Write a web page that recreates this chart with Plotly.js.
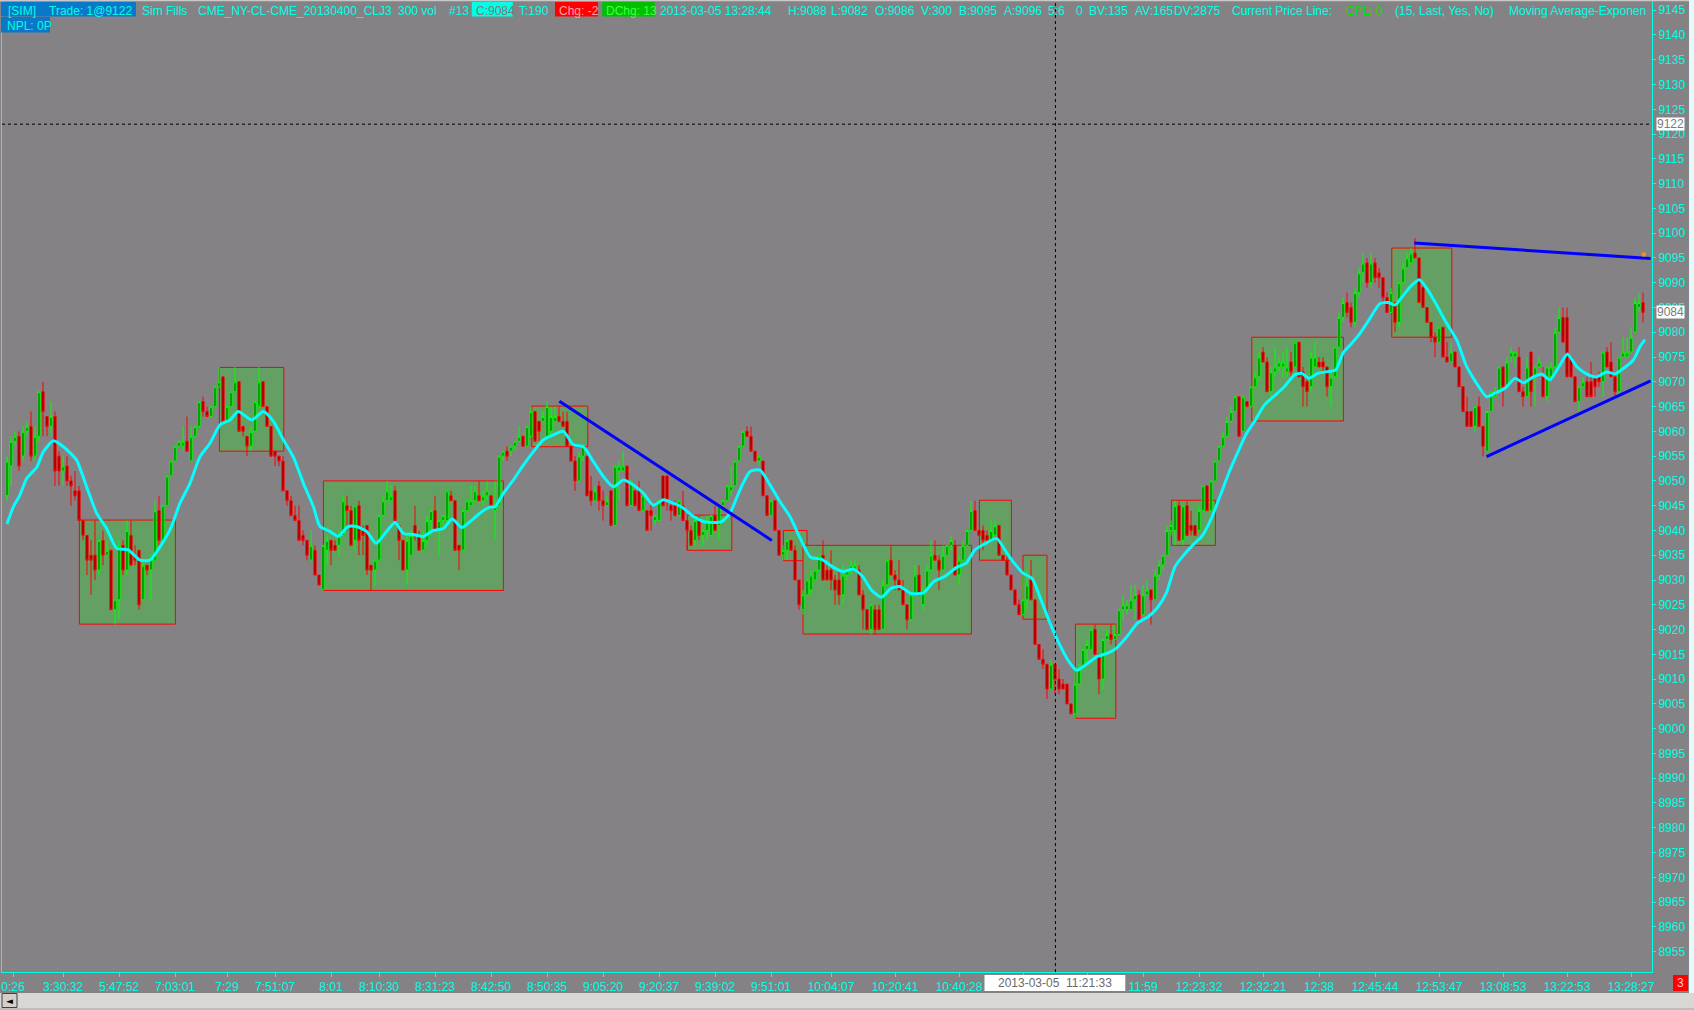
<!DOCTYPE html>
<html><head><meta charset="utf-8">
<script src="https://cdn.plot.ly/plotly-3.0.1.min.js"></script>
<style>html,body{margin:0;padding:0;background:#848284;overflow:hidden}#chart{width:1694px;height:1010px}</style>
</head><body><div id="chart"></div>
<script>
// ---------- DATA ----------
const open = [
9047,9053,9058,9059,9055,9060,9061,9055,9059,9068, 9063,9061,9063,9055,9052,9053,9050,9048,9048,9042,
9039,9035,9035,9032,9038,9035,9036,9024,9026,9037, 9032,9039,9035,9036,9026,9033,9032,9034,9044,9038,
9045,9051,9054,9057,9057,9058,9054,9059,9061,9066, 9064,9063,9065,9069,9071,9062,9065,9068,9070,9061,
9059,9057,9060,9065,9070,9065,9061,9056,9055,9054, 9048,9046,9043,9042,9039,9038,9034,9036,9031,9028,
9036,9038,9037,9037,9039,9045,9044,9038,9045,9040, 9041,9033,9032,9034,9043,9046,9046,9048,9041,9038,
9032,9035,9041,9039,9036,9038,9042,9044,9040,9042, 9042,9047,9046,9037,9036,9044,9045,9046,9047,9046,
9047,9047,9044,9045,9055,9056,9056,9057,9058,9059, 9057,9059,9064,9062,9062,9059,9060,9062,9063,9062,
9062,9057,9054,9050,9055,9055,9048,9046,9049,9046, 9045,9048,9041,9052,9052,9053,9045,9048,9048,9044,
9044,9044,9042,9042,9051,9051,9045,9045,9043,9045, 9042,9040,9038,9042,9039,9040,9039,9043,9041,9045,
9046,9048,9049,9054,9057,9060,9059,9056,9054,9054, 9047,9043,9046,9040,9035,9036,9038,9036,9030,9024,
9027,9028,9030,9032,9035,9032,9032,9030,9030,9027, 9031,9032,9032,9032,9027,9024,9020,9024,9024,9020,
9029,9034,9031,9030,9028,9025,9022,9027,9031,9025, 9028,9032,9035,9034,9032,9035,9037,9037,9031,9034,
9037,9040,9044,9040,9040,9039,9038,9039,9041,9035, 9034,9031,9028,9025,9023,9026,9030,9026,9017,9014,
9013,9008,9013,9010,9009,9009,9005,9003,9009,9012, 9016,9016,9020,9015,9010,9018,9019,9018,9019,9024,
9024,9024,9026,9027,9023,9027,9028,9026,9031,9033, 9035,9040,9040,9045,9038,9045,9041,9041,9040,9044,
9049,9044,9050,9054,9057,9059,9062,9064,9067,9060, 9066,9065,9069,9071,9076,9074,9068,9072,9073,9073,
9072,9074,9073,9078,9072,9070,9069,9073,9074,9074, 9073,9069,9071,9077,9083,9086,9085,9082,9088,9092,
9094,9090,9094,9092,9091,9087,9084,9086,9082,9090, 9093,9094,9096,9095,9089,9085,9082,9079,9078,9081,
9075,9074,9076,9073,9069,9064,9064,9061,9065,9061, 9056,9064,9067,9068,9073,9069,9075,9075,9075,9068,
9067,9076,9071,9073,9071,9067,9071,9073,9080,9083, 9083,9075,9071,9066,9069,9070,9070,9071,9071,9070,
9076,9074,9071,9068,9075,9075,9076,9080,9085,9086];
const high = [
9055,9059,9060,9060,9061,9062,9064,9061,9068,9070, 9063,9066,9064,9056,9055,9055,9051,9052,9049,9042,
9039,9038,9042,9038,9040,9038,9036,9026,9038,9038, 9042,9042,9037,9036,9034,9033,9035,9046,9047,9045,
9051,9054,9057,9058,9061,9063,9061,9061,9066,9067, 9065,9065,9069,9073,9071,9065,9068,9073,9070,9061,
9059,9061,9066,9073,9070,9065,9061,9056,9055,9055, 9048,9047,9045,9045,9040,9038,9040,9037,9031,9037,
9039,9038,9038,9040,9047,9047,9045,9045,9046,9041, 9041,9033,9034,9043,9047,9050,9049,9049,9041,9038,
9039,9040,9045,9040,9040,9043,9044,9047,9042,9043, 9048,9048,9046,9037,9044,9046,9049,9049,9050,9048,
9050,9047,9050,9055,9056,9057,9057,9058,9061,9059, 9061,9065,9064,9062,9064,9066,9065,9065,9065,9064,
9064,9057,9055,9056,9057,9055,9051,9049,9050,9048, 9047,9048,9053,9054,9056,9053,9050,9048,9050,9047,
9044,9046,9043,9046,9051,9051,9046,9046,9046,9048, 9042,9041,9042,9043,9040,9043,9043,9045,9045,9046,
9049,9053,9054,9057,9060,9061,9061,9056,9055,9054, 9047,9046,9046,9040,9037,9038,9038,9037,9030,9028,
9030,9032,9032,9035,9038,9033,9036,9031,9032,9033, 9032,9034,9034,9033,9028,9024,9025,9025,9025,9030,
9034,9037,9032,9034,9030,9025,9027,9033,9033,9029, 9033,9038,9038,9035,9037,9037,9039,9038,9035,9038,
9040,9046,9046,9040,9041,9040,9042,9042,9041,9035, 9035,9031,9028,9026,9031,9032,9034,9026,9017,9016,
9013,9014,9013,9012,9010,9009,9005,9012,9013,9016, 9018,9020,9021,9015,9018,9020,9021,9021,9024,9027,
9026,9029,9029,9028,9029,9030,9028,9032,9034,9035, 9041,9042,9046,9046,9045,9046,9044,9041,9045,9049,
9049,9050,9054,9057,9060,9063,9065,9067,9067,9067, 9066,9069,9072,9076,9077,9075,9073,9077,9075,9076,
9077,9076,9078,9078,9073,9071,9076,9078,9075,9075, 9073,9072,9077,9084,9087,9088,9086,9089,9093,9096,
9095,9096,9095,9093,9091,9088,9089,9086,9090,9094, 9096,9097,9099,9095,9090,9085,9082,9080,9081,9081,
9078,9078,9076,9073,9069,9067,9064,9065,9067,9061, 9064,9068,9069,9073,9073,9075,9077,9076,9077,9069,
9075,9076,9073,9075,9073,9073,9074,9081,9085,9085, 9085,9075,9071,9069,9071,9071,9074,9071,9072,9076,
9077,9078,9072,9075,9079,9079,9081,9087,9088,9088];
const low = [
9046,9049,9057,9052,9054,9059,9054,9054,9058,9059, 9059,9059,9049,9049,9049,9049,9045,9046,9042,9038,
9031,9027,9030,9031,9033,9035,9024,9021,9022,9031, 9031,9033,9033,9024,9026,9031,9026,9034,9037,9037,
9045,9051,9054,9057,9056,9056,9054,9059,9061,9063, 9063,9063,9065,9069,9062,9062,9065,9068,9060,9059,
9055,9056,9060,9065,9065,9061,9055,9053,9053,9048, 9045,9043,9042,9038,9037,9034,9034,9031,9029,9028,
9033,9033,9036,9035,9039,9040,9037,9036,9035,9035, 9031,9028,9029,9034,9043,9046,9046,9042,9034,9032,
9029,9035,9038,9036,9036,9037,9039,9040,9035,9041, 9042,9046,9036,9032,9036,9044,9045,9046,9046,9045,
9046,9045,9038,9045,9054,9054,9055,9056,9058,9057, 9057,9059,9058,9058,9062,9059,9059,9062,9062,9061,
9057,9054,9048,9050,9054,9047,9045,9046,9044,9042, 9045,9041,9041,9046,9052,9045,9045,9045,9044,9044,
9040,9040,9041,9042,9045,9044,9042,9043,9043,9042, 9036,9037,9037,9038,9037,9038,9039,9040,9038,9045,
9046,9047,9049,9054,9057,9059,9056,9054,9053,9047, 9043,9043,9040,9035,9034,9034,9036,9030,9024,9023,
9027,9027,9030,9032,9030,9030,9028,9025,9025,9025, 9030,9031,9032,9027,9020,9020,9019,9019,9020,9020,
9029,9031,9028,9028,9025,9020,9022,9027,9027,9024, 9028,9032,9034,9028,9032,9035,9036,9031,9029,9034,
9037,9040,9040,9039,9036,9038,9038,9039,9035,9034, 9031,9028,9025,9023,9023,9024,9026,9017,9014,9012,
9006,9008,9007,9007,9008,9005,9003,9002,9009,9012, 9013,9016,9015,9007,9008,9018,9017,9018,9019,9022,
9023,9024,9022,9022,9023,9027,9021,9026,9030,9032, 9035,9039,9037,9038,9037,9039,9039,9039,9040,9044,
9044,9044,9050,9054,9057,9059,9062,9064,9059,9060, 9065,9065,9069,9070,9074,9068,9067,9071,9072,9071,
9071,9071,9073,9071,9065,9065,9068,9073,9073,9072, 9067,9065,9071,9077,9082,9083,9081,9081,9087,9090,
9089,9089,9090,9089,9086,9084,9084,9080,9081,9090, 9093,9094,9095,9086,9085,9082,9078,9075,9078,9075,
9074,9074,9073,9069,9064,9061,9061,9060,9061,9055, 9056,9064,9067,9068,9065,9069,9074,9073,9068,9065,
9067,9065,9065,9073,9067,9066,9070,9073,9080,9078, 9071,9071,9066,9064,9069,9067,9067,9067,9069,9067,
9073,9071,9067,9067,9075,9075,9076,9080,9084,9082];
const close = [
9054,9058,9059,9053,9060,9061,9055,9059,9068,9064, 9061,9063,9052,9052,9053,9050,9049,9047,9042,9039,
9034,9034,9032,9038,9035,9036,9024,9026,9037,9032, 9040,9033,9034,9025,9033,9032,9035,9044,9038,9045,
9051,9054,9057,9058,9058,9056,9059,9061,9066,9064, 9063,9065,9069,9070,9062,9065,9068,9070,9060,9060,
9057,9060,9066,9070,9065,9061,9055,9055,9054,9048, 9046,9043,9042,9038,9038,9035,9037,9031,9029,9037,
9038,9036,9036,9039,9046,9044,9037,9045,9038,9039, 9032,9032,9034,9043,9046,9048,9047,9042,9038,9032,
9038,9039,9039,9036,9038,9042,9044,9040,9042,9043, 9048,9046,9036,9036,9044,9046,9046,9048,9046,9047,
9048,9045,9045,9055,9056,9055,9057,9058,9059,9057, 9061,9064,9058,9060,9063,9065,9063,9063,9062,9061,
9057,9054,9050,9055,9057,9047,9046,9048,9046,9045, 9046,9041,9053,9053,9053,9045,9050,9045,9044,9047,
9040,9043,9043,9046,9045,9046,9044,9043,9046,9042, 9040,9037,9042,9039,9040,9042,9043,9040,9045,9046,
9049,9049,9054,9057,9060,9059,9056,9054,9055,9047, 9043,9046,9040,9035,9036,9038,9036,9030,9025,9027,
9030,9031,9032,9035,9030,9030,9030,9028,9027,9031, 9032,9033,9033,9027,9024,9020,9025,9020,9020,9029,
9034,9031,9030,9028,9025,9022,9027,9031,9027,9028, 9032,9035,9034,9032,9035,9037,9038,9031,9034,9037,
9040,9044,9040,9039,9038,9038,9040,9041,9035,9034, 9031,9028,9025,9023,9026,9029,9026,9017,9014,9013,
9008,9013,9010,9008,9008,9005,9003,9009,9012,9016, 9017,9020,9015,9010,9018,9019,9018,9019,9024,9025,
9025,9026,9027,9022,9027,9028,9026,9031,9033,9035, 9040,9041,9045,9038,9045,9039,9040,9039,9044,9049,
9044,9050,9054,9057,9059,9062,9064,9067,9059,9067, 9065,9069,9071,9075,9074,9068,9072,9073,9074,9074,
9073,9072,9078,9071,9069,9068,9075,9075,9073,9073, 9069,9071,9077,9083,9086,9084,9082,9088,9092,9094,
9090,9094,9091,9091,9087,9084,9088,9082,9090,9093, 9095,9096,9095,9086,9085,9082,9079,9078,9081,9075,
9074,9076,9073,9069,9064,9061,9061,9065,9061,9057, 9064,9068,9068,9073,9069,9074,9076,9076,9068,9067,
9073,9068,9073,9074,9067,9073,9073,9080,9083,9078, 9071,9071,9066,9069,9070,9067,9067,9069,9070,9076,
9073,9071,9068,9075,9076,9076,9079,9086,9086,9084];

// Exponential moving average (15) as drawn: bar position / price
const emaX = [0,1.6,3.25,4.9,7.4,9.1,11.6,14.1,17.4,19.9,22.4,24.9,27.4,30.3,33.25,35.75,38.25,40.75,43.25,45.75,
48.25,50.75,53.25,55.75,57.8,61.2,64.1,66.6,69.1,71.6,74.1,76.6,78.25,80.75,82.8,85.3,87.4,89.9,92.25,94.5,
97,99.1,101.6,104.1,106.6,109.1,111.3,113.7,116.2,118.7,120.75,122,124.1,126.6,129.1,131.6,134.1,136.6,139.1,141.6,
144.1,146.6,149.1,151.6,154.1,156.6,159.1,161.6,164.1,166.6,169.1,171.6,174.1,176.6,178.7,180.75,183.25,185.75,188.25,190.75,
193.25,195.75,198.25,200.9,203.6,206.3,209,211.6,213.9,216.1,218.6,221,223.25,225.9,229.1,231.7,234.4,237.5,239.8,242,
244.7,247.4,250,251.8,254,256.3,258.5,260.75,263,265.2,267.4,269.7,272.4,275,277.3,280,282.6,285.3,287.5,289.8,
292,294.25,296.5,298.7,300.9,303.2,305.4,307.6,309.9,312.1,314.3,316.6,319.2,321.9,323.7,325.5,327.7,330.4,332.2,334,
336.2,338,340.5,343.25,345.3,347,349.1,351.2,353.1,354.9,357.4,359.9,362.4,364.9,367.4,369.9,372,374.5,377,379.1,
381.6,383.7,385.75,388.25,390.1,392.4,394.9,397.4,399.9,402,404.1,406.6,408.25,409.5];
const emaY = [9041.3,9044.8,9047.2,9050.5,9052.7,9055.9,9058.1,9056.9,9054.2,9048.8,9043.5,9040.4,9036.4,9036.1,9034.0,9034.0,9036.7,9040.1,9045.5,9049.5,
9054.9,9057.6,9061.3,9062.3,9064.0,9062.3,9064.0,9062.0,9058.3,9054.8,9049.5,9044.8,9040.8,9039.8,9038.8,9040.8,9040.8,9039.8,9037.4,9039.4,
9041.6,9039.4,9039.2,9038.8,9040.0,9040.4,9042.3,9040.6,9042.1,9043.8,9044.7,9044.8,9047.5,9050.2,9053.2,9055.9,9058.3,9059.3,9060.0,9057.3,
9056.9,9053.9,9050.9,9048.8,9050.2,9049.2,9047.5,9045.1,9046.2,9045.5,9044.5,9042.8,9041.8,9041.6,9041.8,9043.5,9048.2,9051.9,9052.2,9049.2,
9045.8,9042.8,9038.5,9034.6,9034.2,9032.7,9031.7,9032.2,9030.7,9028.0,9026.5,9028.3,9028.7,9027.3,9027.4,9029.7,9030.7,9032.6,9033.4,9036.1,
9037.4,9038.4,9035.4,9033.4,9031.4,9030.3,9026.0,9021.3,9017.2,9013.9,9011.8,9012.9,9014.5,9015.2,9016.2,9018.6,9021.3,9022.6,9024.3,9027.3,
9032.7,9035.1,9037.1,9038.8,9042.1,9046.8,9051.5,9055.6,9059.6,9062.3,9065.3,9067.0,9068.9,9071.4,9071.7,9070.7,9071.7,9072.1,9072.4,9075.8,
9077.8,9079.5,9082.5,9085.8,9086.0,9085.5,9087.5,9089.5,9090.6,9088.9,9085.5,9081.8,9078.5,9073.1,9069.7,9067.0,9067.7,9068.7,9070.7,9069.8,
9071.0,9071.6,9070.4,9073.4,9075.6,9073.1,9071.6,9071.0,9072.0,9071.6,9072.7,9074.4,9077.1,9078.5];

// Drawn trend lines (bar position / price)
const trendDownX = [138.1, 191.2], trendDownY = [9066.1, 9038.0];
const trendTopX  = [351.8, 410.9], trendTopY  = [9098.0, 9094.9];
const trendUpX   = [369.9, 410.9], trendUpY   = [9054.9, 9070.2];
const markX = [409.2], markY = [9095.7];

// Highlighted consolidation boxes
const boxX0  = [18.1, 53.1, 79.1, 131.2, 170.1, 194.1, 199.0, 243.1, 254.0, 267.1, 291.1, 311.2, 346.2];
const boxX1  = [42.1, 69.2, 124.1, 145.2, 181.2, 200.0, 241.1, 251.1, 260.0, 277.2, 302.1, 334.1, 361.2];
const boxTop = [9042.1, 9072.9, 9050.0, 9065.1, 9043.1, 9040.0, 9037.0, 9046.1, 9035.0, 9021.1, 9046.1, 9079.0, 9097.0];
const boxBot = [9021.1, 9056.0, 9027.9, 9056.9, 9036.0, 9033.9, 9019.1, 9034.0, 9022.1, 9002.1, 9037.0, 9062.1, 9079.0];

const crossX = 262.1, crossY = 9122, lastPrice = 9084;

// Axis ticks
const xTickVals = [1.5,14,28,42,55,67,81,93,107,121,135,149,163,177,191,206,222,238,254,270,284,298,314,328,342,358,374,390,406];
const xTickText = ['0:26','3:30:32','5:47:52','7:03:01','7:29','7:51:07','8:01','8:10:30','8:31:23','8:42:50','8:50:35',
  '9:05:20','9:20:37','9:39:02','9:51:01','10:04:07','10:20:41','10:40:28','','','11:59','12:23:32','12:32:21','12:38',
  '12:45:44','12:53:47','13:08:53','13:22:53','13:28:27'];
const yTickVals = [8955,8960,8965,8970,8975,8980,8985,8990,8995,9000,9005,9010,9015,9020,9025,9030,9035,9040,9045,9050,
  9055,9060,9065,9070,9075,9080,9085,9090,9095,9100,9105,9110,9115,9120,9125,9130,9135,9140,9145];

// ---------- LAYOUT ----------
const W = 1694, H = 1010, ML = 2, MR = 42, MT = 0, MB = 38;
const PW = W - ML - MR, PH = H - MT - MB;
const px = x => (x - ML) / PW;
const py = y => (H - MB - y) / PH;
const FONT = 'Liberation Sans, Arial, sans-serif';
const CY = '#00ffe4';
const BG = '#848284';
const idx = open.map((_, i) => i);

const traces = [
  {type: 'candlestick', x: idx, open: open, high: high, low: low, close: close,
   increasing: {line: {color: '#00ff00', width: 1}, fillcolor: '#006a00'},
   decreasing: {line: {color: '#ff0000', width: 1}, fillcolor: '#8a0000'},
   whiskerwidth: 0, hoverinfo: 'skip'},
  {type: 'scatter', mode: 'lines', x: emaX, y: emaY,
   line: {color: '#00ffff', width: 3, shape: 'spline', smoothing: 0.6}, hoverinfo: 'skip'},
  {type: 'scatter', mode: 'lines', x: trendDownX, y: trendDownY, line: {color: '#0000ff', width: 3}, hoverinfo: 'skip'},
  {type: 'scatter', mode: 'lines', x: trendTopX, y: trendTopY, line: {color: '#0000ff', width: 3}, hoverinfo: 'skip'},
  {type: 'scatter', mode: 'lines', x: trendUpX, y: trendUpY, line: {color: '#0000ff', width: 3}, hoverinfo: 'skip'},
  {type: 'scatter', mode: 'markers', x: markX, y: markY,
   marker: {symbol: 'square', size: 4, color: '#ff8c1a'}, hoverinfo: 'skip'}
];

const shapes = [];
boxX0.forEach((x0, i) => shapes.push({type: 'rect', xref: 'x', yref: 'y', x0: x0, x1: boxX1[i],
  y0: boxBot[i], y1: boxTop[i], fillcolor: '#64a064', line: {color: '#ff0000', width: 1}, layer: 'below'}));
shapes.push({type: 'line', xref: 'paper', yref: 'y', x0: 0, x1: 1, y0: crossY, y1: crossY,
  line: {color: '#000000', width: 1, dash: 'dot'}});
shapes.push({type: 'line', xref: 'x', yref: 'paper', x0: crossX, x1: crossX, y0: 0, y1: 1,
  line: {color: '#000000', width: 1, dash: 'dot'}});

function pxRect(x0, x1, y0, y1, fill, lineColor) {
  shapes.push({type: 'rect', xref: 'paper', yref: 'paper', x0: px(x0), x1: px(x1), y0: py(y1), y1: py(y0),
    fillcolor: fill, line: {color: lineColor || fill, width: lineColor ? 1 : 0}, layer: 'above'});
}
// header backgrounds
pxRect(1, 136, 2, 16.5, '#0a78c8');
pxRect(471.8, 512.8, 2, 16.5, CY);
pxRect(555, 598, 2, 16.5, '#ff0000');
pxRect(602.2, 654.6, 2, 16.5, '#00c000');
pxRect(1, 50, 17, 32.5, '#0a78c8');
// window chrome
pxRect(0, 1694, 0, 1.2, '#c8c8c8');
pxRect(0, 1694, 993, 1008, '#d9d7d3');
pxRect(0, 1694, 1008, 1010, '#bdbdbd');
pxRect(2, 17, 993.5, 1007.5, '#d4d0c8', '#404040');
pxRect(1689, 1694, 0, 993, '#e4fafa');
// bottom date box and red counter
pxRect(984.5, 1125.3, 975, 991, '#ffffff');
pxRect(1673, 1688, 975, 991, '#ff0000');

const annotations = [];
function txt(x, y, text, color, extra) {
  annotations.push(Object.assign({xref: 'paper', yref: 'paper', x: px(x), y: py(y), text: text,
    showarrow: false, xanchor: 'left', yanchor: 'middle', font: {family: FONT, size: 12, color: color || CY}}, extra || {}));
}
const headerY = 10.5;
const header = [
  [5.7, '[SIM]'], [46.7, 'Trade: 1@9122'], [139.7, 'Sim Fills'], [196, 'CME_NY-CL-CME_20130400_CLJ3'],
  [396, '300 vol'], [447, '#13'], [473.5, 'C:9084', '#7a7a7a'], [517.4, 'T:190'], [557, 'Chg: -2', '#ffa0a0'],
  [604, 'DChg: 13', '#40ff40'], [658.4, '2013-03-05 13:28:44'], [785.5, 'H:9088'], [828.7, 'L:9082'],
  [872.8, 'O:9086'], [919, 'V:300'], [957, 'B:9095'], [1002, 'A:9096'], [1046, '5:6'], [1073.6, '0'],
  [1087, 'BV:135'], [1133, 'AV:165'], [1171.7, 'DV:2875'], [1229.5, 'Current Price Line:'],
  [1344, 'CPL: 0', '#00e000'], [1393, '(15, Last, Yes, No)'], [1506.6, 'Moving Average-Exponen']
];
header.forEach(h => txt(h[0], headerY, h[1], h[2]));
txt(5, 25.5, 'NPL: 0P');
txt(1055, 983, '2013-03-05\u00a0\u00a011:21:33', '#6a6a6a', {xanchor: 'center'});
txt(1680.5, 983, '3', '#ffc8c8', {xanchor: 'center'});
txt(9.5, 1000.5, '\u25C4', '#000000', {xanchor: 'center', font: {family: 'DejaVu Sans', size: 9, color: '#000'}});
// price flags on the right axis (they sit over the axis labels, as in the original)
[crossY, lastPrice].forEach(p => annotations.push({xref: 'paper', yref: 'y', x: px(1656), y: p, text: String(p),
  showarrow: false, xanchor: 'left', yanchor: 'middle', width: 27, height: 12, borderpad: 0, bgcolor: '#ffffff',
  font: {family: FONT, size: 12, color: '#7a7a7a'}}));

const layout = {
  width: W, height: H, margin: {l: ML, r: MR, t: MT, b: MB, pad: 0},
  paper_bgcolor: BG, plot_bgcolor: BG, showlegend: false, dragmode: false, boxgap: 0.45, boxgroupgap: 0,
  xaxis: {range: [-1.25, 411.25], rangeslider: {visible: false}, showgrid: false, zeroline: false,
    showline: true, linecolor: CY, linewidth: 1, ticks: 'outside', ticklen: 4, tickwidth: 1, tickcolor: CY,
    tickmode: 'array', tickvals: xTickVals, ticktext: xTickText, ticklabeloverflow: 'allow',
    tickfont: {family: FONT, size: 12, color: CY}, fixedrange: true},
  yaxis: {range: [8950.89, 9147.06], side: 'right', showgrid: false, zeroline: false,
    showline: true, mirror: true, linecolor: CY, linewidth: 1, ticks: 'outside', ticklen: 3, tickwidth: 1,
    tickcolor: CY, tickmode: 'array', tickvals: yTickVals, ticktext: yTickVals.map(String),
    tickfont: {family: FONT, size: 12, color: CY}, fixedrange: true},
  shapes: shapes, annotations: annotations
};

Plotly.newPlot('chart', traces, layout, {staticPlot: true, displayModeBar: false});
</script></body></html>
